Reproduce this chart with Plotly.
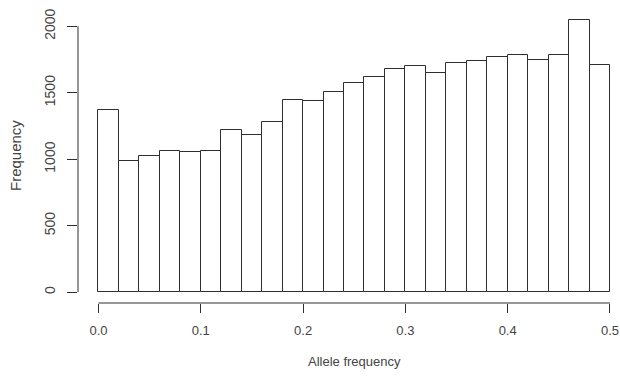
import numpy as np
import plotly.graph_objects as go

# Histogram of allele frequencies: 25 bins of width 0.02 over [0, 0.5]
bin_width = 0.02
bin_starts = np.round(np.arange(0.0, 0.5, bin_width), 2)
counts = [1373, 983, 1021, 1062, 1056, 1062, 1222, 1185, 1277, 1446,
          1435, 1506, 1573, 1616, 1679, 1699, 1651, 1724, 1737, 1767,
          1785, 1749, 1785, 2048, 1707]

x_ticks = [0.0, 0.1, 0.2, 0.3, 0.4, 0.5]
x_tick_labels = ["0.0", "0.1", "0.2", "0.3", "0.4", "0.5"]
y_ticks = [0, 500, 1000, 1500, 2000]
y_tick_labels = ["0", "500", "1000", "1500", "2000"]

ink = "#2e2e2e"
text_col = "#444444"
font_family = "Liberation Sans, Arial, sans-serif"

centers = bin_starts + bin_width / 2

fig = go.Figure(
    go.Bar(
        x=centers,
        y=counts,
        width=bin_width,
        marker=dict(color="white", line=dict(color=ink, width=1)),
        hoverinfo="skip",
    )
)

# Base-graphics style padding: 4% beyond the data range on each side
x_lo = 0.0 - 0.04 * 0.5
x_hi = 0.5098
y_span = max(counts)
y_lo = -0.04 * y_span
y_hi = y_span * 1.04

fig.update_layout(
    width=620,
    height=381,
    margin=dict(l=78, r=0, t=9, b=78),
    paper_bgcolor="white",
    plot_bgcolor="white",
    bargap=0,
    showlegend=False,
    font=dict(family=font_family, color=text_col, size=13),
    xaxis=dict(
        range=[x_lo, x_hi],
        tickvals=x_ticks,
        ticktext=x_tick_labels,
        ticks="outside",
        ticklen=9,
        tickcolor=ink,
        tickwidth=1,
        showgrid=False,
        zeroline=False,
        showline=False,
        tickfont=dict(size=13, color=text_col),
        ticklabelstandoff=6,
    ),
    yaxis=dict(
        range=[y_lo, y_hi],
        tickvals=y_ticks,
        ticktext=y_tick_labels,
        ticks="outside",
        ticklen=10,
        tickcolor=ink,
        tickwidth=1,
        showgrid=False,
        zeroline=False,
        showline=False,
        tickangle=-90,
        tickfont=dict(size=14, color=text_col),
        ticklabelstandoff=6,
    ),
    shapes=[
        # x axis line spanning the first to last tick
        dict(type="line", xref="x", yref="paper", x0=x_ticks[0], x1=x_ticks[-1],
             y0=0, y1=0, line=dict(color=ink, width=1)),
        # y axis line spanning the first to last tick
        dict(type="line", xref="paper", yref="y", x0=0, x1=0,
             y0=y_ticks[0], y1=y_ticks[-1], line=dict(color=ink, width=1)),
    ],
    annotations=[
        dict(text="Allele frequency", xref="x", yref="paper", x=0.25, y=0,
             yshift=-58, showarrow=False, xanchor="center", yanchor="middle",
             font=dict(size=13, color=text_col)),
        dict(text="Frequency", xref="paper", yref="paper", x=0, y=0.5,
             xshift=-63, showarrow=False, textangle=-90,
             xanchor="center", yanchor="middle",
             font=dict(size=15, color=text_col)),
    ],
)

fig.write_html("out.html")
